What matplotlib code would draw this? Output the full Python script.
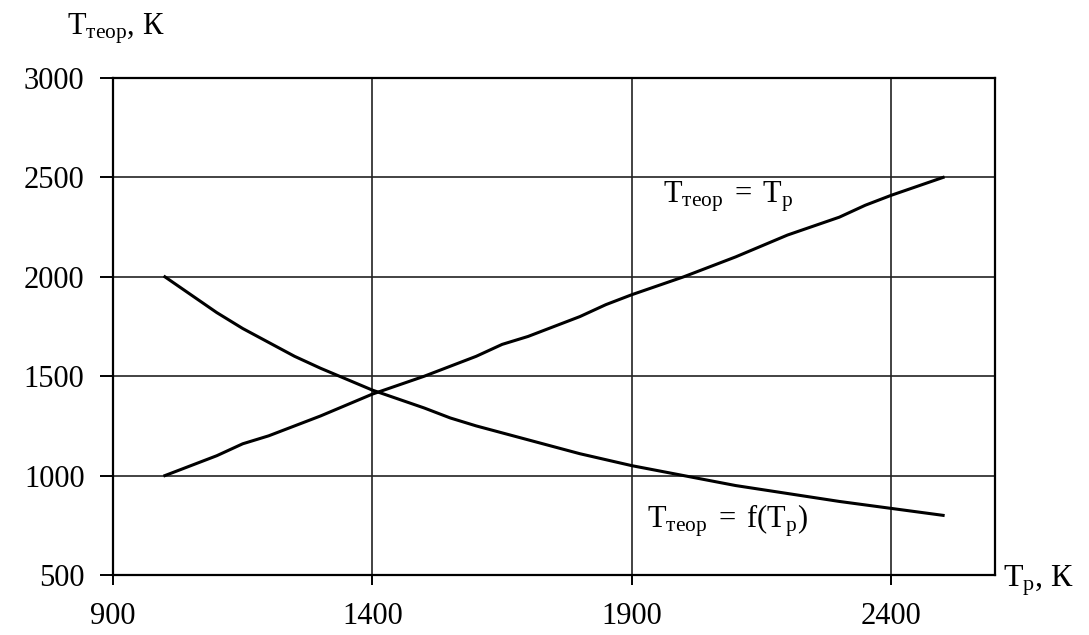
import matplotlib
matplotlib.use("Agg")
import matplotlib.pyplot as plt

plt.rcParams['font.family'] = ['Liberation Serif', 'DejaVu Serif']
plt.rcParams['mathtext.fontset'] = 'custom'
plt.rcParams['mathtext.rm'] = 'Liberation Serif'
plt.rcParams['mathtext.it'] = 'Liberation Serif'

# Data
tp_equal = [1000, 1100, 1150, 1200, 1300, 1400, 1500, 1550, 1600, 1650, 1700,
            1800, 1850, 1900, 2000, 2100, 2200, 2300, 2350, 2400, 2500]
t_equal = [1000, 1100, 1160, 1200, 1300, 1410, 1500, 1550, 1600, 1660, 1700,
           1800, 1860, 1910, 2000, 2100, 2210, 2300, 2360, 2410, 2500]

tp_f = [1000, 1100, 1150, 1200, 1250, 1300, 1400, 1500, 1550, 1600, 1700,
        1800, 1900, 2000, 2100, 2200, 2300, 2400, 2500]
t_f = [2000, 1820, 1740, 1670, 1600, 1540, 1430, 1340, 1290, 1250, 1180,
       1110, 1050, 1000, 950, 910, 870, 835, 800]

x_ticks = [900, 1400, 1900, 2400]
y_ticks = [500, 1000, 1500, 2000, 2500, 3000]

FS = 22

fig = plt.figure(figsize=(10.89, 6.35), dpi=100)
ax = fig.add_axes([113/1089, 1-575/635, (995-113)/1089, (575-78)/635])

ax.plot(tp_equal, t_equal, color='black', lw=2.2, zorder=3)
ax.plot(tp_f, t_f, color='black', lw=2.2, zorder=3)

ax.set_xlim(900, 2600)
ax.set_ylim(500, 3000)
ax.set_xticks(x_ticks)
ax.set_yticks(y_ticks)
ax.grid(True, color='#222222', lw=1.2)
ax.set_axisbelow(True)
for s in ax.spines.values():
    s.set_linewidth(1.6)
    s.set_color('black')
ax.tick_params(axis='y', length=9.5, width=1.4, pad=11, labelsize=FS)
ax.tick_params(axis='x', length=7.5, width=1.4, pad=12, labelsize=FS)

ax.text(1960, 2376, r'$\mathrm{T}_{\mathrm{теор}}\;=\;\mathrm{T}_{\mathrm{р}}$',
        fontsize=FS, ha='left', va='baseline')
ax.text(1930, 741, r'$\mathrm{T}_{\mathrm{теор}}\;=\;\mathrm{f(T}_{\mathrm{р}}\mathrm{)}$',
        fontsize=FS, ha='left', va='baseline')

fig.text(67/1089, 1-35/635, r'$\mathrm{T}_{\mathrm{теор}}$, К', fontsize=FS,
         ha='left', va='baseline')
fig.text(1003/1089, 1-587/635, r'$\mathrm{T}_{\mathrm{р}}$, К', fontsize=FS + 1,
         ha='left', va='baseline')

fig.savefig('out.png', dpi=100)
